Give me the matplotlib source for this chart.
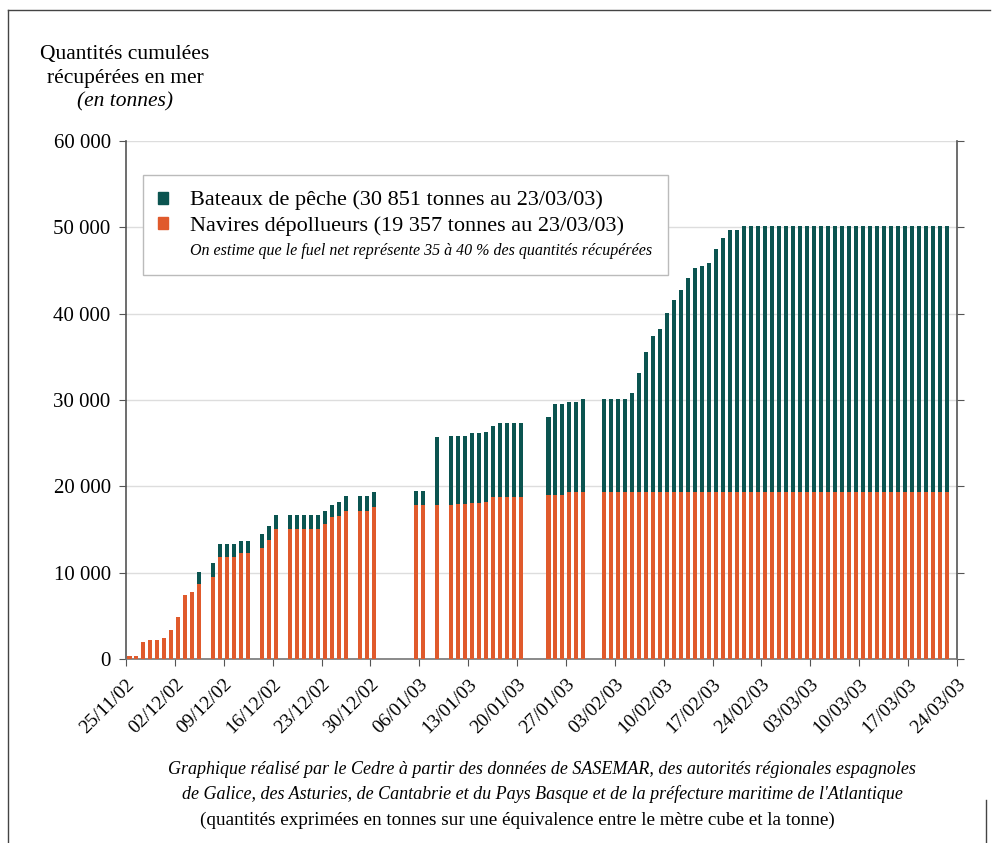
import numpy as np
import matplotlib
matplotlib.use("Agg")
import matplotlib.pyplot as plt
from matplotlib.patches import Patch
from matplotlib.lines import Line2D

plt.rcParams["font.family"] = ["Liberation Serif", "DejaVu Serif"]

# jours depuis le 25/11/02 (jours sans donnée absents)
jours = [0, 1, 2, 3, 4, 5, 6, 7, 8, 9, 10, 12, 13, 14, 15, 16, 17, 19, 20, 21,
         23, 24, 25, 26, 27, 28, 29, 30, 31, 33, 34, 35, 41, 42, 44, 46, 47, 48,
         49, 50, 51, 52, 53, 54, 55, 56, 60, 61, 62, 63, 64, 65, 68, 69, 70, 71,
         72, 73, 74, 75, 76, 77, 78, 79, 80, 81, 82, 83, 84, 85, 86, 87,
         88, 89, 90, 91, 92, 93, 94, 95, 96, 97, 98, 99, 100, 101, 102, 103,
         104, 105, 106, 107, 108, 109, 110, 111, 112, 113, 114, 115, 116, 117]

navires = [400, 400, 2000, 2160, 2160, 2430, 3390, 4860, 7440, 7750, 8710,
           9480, 11790, 11790, 11790, 12250, 12250, 12900, 13800, 15070,
           15070, 15070, 15070, 15070, 15070, 15600, 16420, 16570, 17190,
           17190, 17190, 17650, 17840, 17840, 17840, 17840, 17950, 17950,
           18030, 18030, 18190, 18720, 18800, 18800, 18800, 18800, 18960,
           18960, 19040, 19350, 19350, 19350, 19357, 19357, 19357, 19357,
           19357, 19357, 19357, 19357, 19357, 19357, 19357, 19357, 19357,
           19357, 19357, 19357, 19357, 19357, 19357, 19357,
           19357, 19357, 19357, 19357, 19357, 19357, 19357, 19357, 19357,
           19357, 19357, 19357, 19357, 19357, 19357, 19357, 19357, 19357,
           19357, 19357, 19357, 19357, 19357, 19357, 19357, 19357, 19357,
           19357, 19357, 19357]

bateaux = [0, 0, 0, 0, 0, 0, 0, 0, 0, 0, 1310,
           1620, 1510, 1510, 1510, 1430, 1430, 1600, 1650, 1620,
           1620, 1620, 1620, 1620, 1620, 1550, 1420, 1620, 1690,
           1690, 1690, 1730, 1660, 1660, 7900, 8020, 7910, 7910,
           8100, 8100, 8130, 8250, 8480, 8480, 8480, 8480, 9060,
           10520, 10440, 10440, 10440, 10820, 10810, 10810, 10810, 10810,
           11430, 13780, 16170, 18100, 18870, 20680, 22220, 23380, 24720,
           25920, 26110, 26500, 28120, 29460, 30310, 30390,
           30851, 30851, 30851, 30851, 30851, 30851, 30851, 30851, 30851,
           30851, 30851, 30851, 30851, 30851, 30851, 30851, 30851, 30851,
           30851, 30851, 30851, 30851, 30851, 30851, 30851, 30851, 30851,
           30851, 30851, 30851]

date_ticks = list(range(0, 120, 7))
date_labels = ["25/11/02", "02/12/02", "09/12/02", "16/12/02", "23/12/02",
               "30/12/02", "06/01/03", "13/01/03", "20/01/03", "27/01/03",
               "03/02/03", "10/02/03", "17/02/03", "24/02/03", "03/03/03",
               "10/03/03", "17/03/03", "24/03/03"]
y_ticks = [0, 10000, 20000, 30000, 40000, 50000, 60000]
y_labels = ["0", "10 000", "20 000", "30 000", "40 000", "50 000", "60 000"]

green = "#0b5450"
orange = "#e05a2c"

fig = plt.figure(figsize=(9.96, 8.43), dpi=100)
ax = fig.add_axes([126/996, 1 - 659/843, 831/996, 518/843])

x = np.array(jours) + 0.5
ax.bar(x, navires, width=0.58, color=orange, zorder=3)
ax.bar(x, bateaux, width=0.58, bottom=navires, color=green, zorder=3)

ax.set_xlim(0, 119)
ax.set_ylim(0, 60000)
ax.set_yticks(y_ticks)
ax.set_yticklabels(y_labels, fontsize=15)
ax.set_xticks(date_ticks)
ax.set_xticklabels(date_labels, fontsize=14, rotation=45, ha="right",
                   rotation_mode="anchor")
ax.tick_params(axis="x", length=5, pad=7, color="#555555")
ax.tick_params(axis="y", length=5, pad=6, color="#555555", right=True)

ax.grid(axis="y", color="#dddddd", lw=1, zorder=0)
ax.spines["top"].set_visible(False)
for s in ["left", "right"]:
    ax.spines[s].set_color("#555555")
    ax.spines[s].set_linewidth(1.2)
ax.spines["bottom"].set_color("#777777")
ax.spines["bottom"].set_linewidth(1.2)

handles = [Patch(color=green), Patch(color=orange), Patch(color="none")]
texts = ["Bateaux de pêche (30 851 tonnes au 23/03/03)",
         "Navires dépollueurs (19 357 tonnes au 23/03/03)",
         "On estime que le fuel net représente 35 à 40 % des quantités récupérées"]
leg = ax.legend(handles, texts, loc="upper left", bbox_to_anchor=(0.02, 0.934),
                borderaxespad=0, fontsize=16, handlelength=0.45,
                handleheight=0.45, handletextpad=1.0, labelspacing=0.25,
                fancybox=False, edgecolor="#bbbbbb", framealpha=1,
                borderpad=0.7)
leg.get_frame().set_linewidth(1)
leg.get_texts()[2].set_fontsize(11.5)
leg.get_texts()[2].set_style("italic")

# titre de l'axe
fig.text(125/996, 1 - 55/843, "Quantités cumulées", fontsize=15.5,
         ha="center", va="center")
fig.text(125/996, 1 - 79/843, "récupérées en mer", fontsize=15.5,
         ha="center", va="center")
fig.text(125/996, 1 - 102/843, "(en tonnes)", fontsize=15.5, style="italic",
         ha="center", va="center")

# source
fig.text(542/996, 1 - 770/843,
         "Graphique réalisé par le Cedre à partir des données de SASEMAR, "
         "des autorités régionales espagnoles",
         fontsize=13, style="italic", ha="center", va="center")
fig.text(542/996, 1 - 794/843,
         "de Galice, des Asturies, de Cantabrie et du Pays Basque et de la "
         "préfecture maritime de l'Atlantique",
         fontsize=13, style="italic", ha="center", va="center")
fig.text(517/996, 1 - 820/843,
         "(quantités exprimées en tonnes sur une équivalence entre le mètre "
         "cube et la tonne)",
         fontsize=13.8, ha="center", va="center")

# cadre de la figure
fig.add_artist(Line2D([8/996, 8/996], [0, 1 - 10/843], color="#444444",
                      lw=1, transform=fig.transFigure))
fig.add_artist(Line2D([8/996, 990/996], [1 - 10/843, 1 - 10/843],
                      color="#444444", lw=1, transform=fig.transFigure))
fig.add_artist(Line2D([986/996, 986/996], [0, 1 - 800/843], color="#444444",
                      lw=1, transform=fig.transFigure))

fig.savefig("out.png", dpi=100)
